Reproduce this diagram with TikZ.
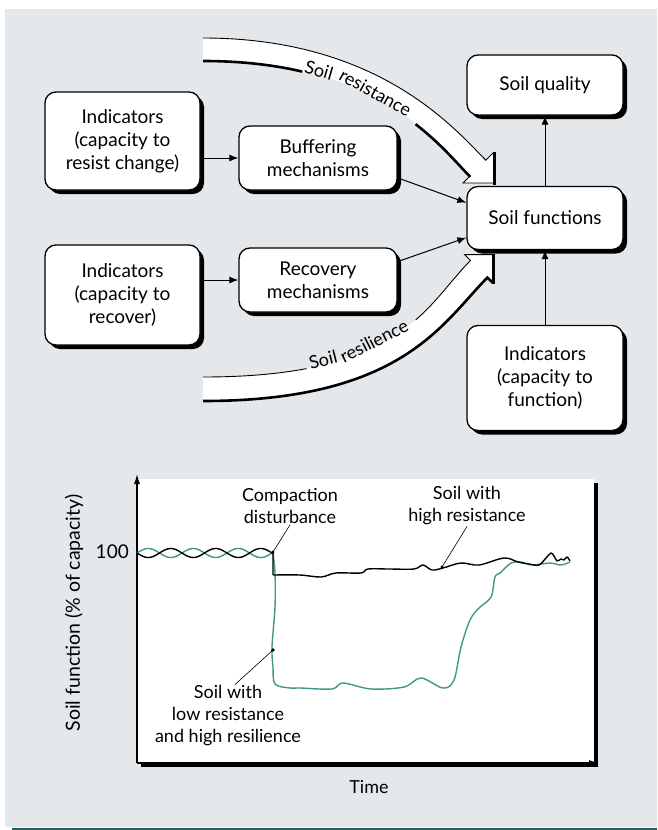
\documentclass[tikz,border=0pt]{standalone}
\usepackage{fontspec}
\setmainfont{Lato}
\usetikzlibrary{arrows.meta,shadows}
\definecolor{bggray}{RGB}{228,232,235}
\definecolor{curvegreen}{RGB}{66,150,138}
\definecolor{rulecol}{RGB}{40,95,90}
\newcommand\boxfont{\fontsize{19}{23}\selectfont}
\newcommand\lblfont{\fontsize{18}{22}\selectfont}
\begin{document}
\begin{tikzpicture}[x=1pt,y=-1pt,
  box/.style={draw=black, line width=1.3pt, fill=white, rounded corners=11pt,
    align=center, inner sep=0pt, font=\boxfont,
    general shadow={fill=black, shadow xshift=4pt, shadow yshift=-4pt}},
  arr/.style={line width=1pt, -{Latex[length=9pt,width=7pt]}},
  thinedge/.style={line width=0.9pt},
  thickedge/.style={line width=2.6pt},
  headedge/.style={line width=3pt},
  lbl/.style={align=center, font=\lblfont, inner sep=1pt},
  bandword/.style={font=\lblfont, inner sep=0pt},
  curve/.style={line width=1.4pt, line join=round}]
\useasboundingbox (0,0) rectangle (657,830);
\fill[white] (0,0) rectangle (657,830);
\fill[bggray] (5,9) rectangle (657,827);
\draw[rulecol, line width=1.5pt] (12,829) -- (657,829);

% ---- Soil resistance arrow
\fill[white] (203,38) .. controls (380,38) and (455.8,130.2) .. (485.8,160.2) -- (493,153) -- (493,183) -- (463,183) -- (470.2,175.8) .. controls (440.2,145.8) and (380,60) .. (203,60) -- cycle;
\draw[thinedge] (203,38) .. controls (380,38) and (455.8,130.2) .. (485.8,160.2) -- (493,153);
\draw[thinedge] (493,183) -- (463,183) -- (470.2,175.8);
\draw[headedge] (494.2,152) -- (494.2,184.5);
\draw[thickedge, dash pattern=on 100pt off 126pt on 600pt] (203,61) .. controls (380,61) and (440.2,146.8) .. (470.2,176.8);
\node[bandword, rotate=-16] (wsoil1) at (319,70) {Soil};
\node[bandword, rotate=-29] (wres) at (375.5,92.5) {resistance};

% ---- Soil resilience arrow
\fill[white] (203,377) .. controls (403,377) and (425.5,305.5) .. (470.5,260.5) -- (464.6,254.6) -- (492.6,254.6) -- (492.6,282.6) -- (486.7,276.7) .. controls (441.7,321.7) and (403,400) .. (203,400) -- cycle;
\draw[thinedge, dash pattern=on 104pt off 121pt on 600pt] (203,377) .. controls (403,377) and (425.5,305.5) .. (470.5,260.5);
\draw[thinedge] (470.5,260.5) -- (464.6,254.6) -- (492.6,254.6);
\draw[headedge] (493.8,253.6) -- (493.8,284);
\draw[thickedge] (203,401) .. controls (403,401) and (442.4,322.6) .. (487.4,277.6) -- (492.6,282.6);
\node[bandword, rotate=14] (wsoil2) at (323,360) {Soil};
\node[bandword, rotate=27] (wresil) at (374,341) {resilience};

% ---- boxes
\node[box, minimum width=155pt, minimum height=98pt] (ir) at (122.5,141) {Indicators\\(capacity to\\resist change)};
\node[box, minimum width=158pt, minimum height=64pt] (buf) at (318,158) {Buffering\\mechanisms};
\node[box, minimum width=155pt, minimum height=100pt] (irec) at (122.5,295) {Indicators\\(capacity to\\recover)};
\node[box, minimum width=158pt, minimum height=64pt] (rec) at (318,280) {Recovery\\mechanisms};
\node[box, minimum width=156pt, minimum height=60pt] (sq) at (545,85) {Soil quality};
\node[box, minimum width=156pt, minimum height=63pt] (sf) at (545,218) {Soil functions};
\node[box, minimum width=156pt, minimum height=105pt] (ifn) at (545,378) {Indicators\\(capacity to\\function)};

\draw[arr] (ir.east |- buf.west) -- (buf.west);
\draw[arr] (irec.east |- rec.west) -- (rec.west);
\draw[arr] (buf.-14) -- (sf.169);
\draw[arr] (rec.13) -- (sf.194);
\draw[arr] (sf.north) -- (sq.south);
\draw[arr] (ifn.north) -- (sf.south);

% ---- graph
\fill[black] (141,483) rectangle (598,767);
\fill[white] (137,479) rectangle (594,763);
\coordinate (o) at (137,763);
\coordinate (ytop) at (137,474);
\coordinate (xend) at (599,763);
\draw[line width=1.1pt, -{Latex[length=10pt,width=6pt]}] (o) -- (ytop);
\draw[line width=1.1pt, -{Latex[length=10pt,width=6pt]}] (o) -- (xend);

\draw[curve, curvegreen] plot[domain=137:273, samples=120, smooth] (\x, {553 - 4.5*sin(8*(\x-137))});
\draw[curve, curvegreen] plot[smooth, tension=0.55] coordinates {(273,553) (275,573) (275,607) (272,647) (273,667) (275,684) (290,688) (300,688) (332,689) (343,683) (371,689) (404,687) (421,678) (443,688) (454,680) (461,647) (470,620) (479,608) (491,597) (495,577) (500,573) (511,563) (521,562) (532,565) (550,563) (561,565) (570,562)};
\draw[curve, black] plot[domain=137:273, samples=120, smooth] (\x, {553 + 4.5*sin(8*(\x-137))});
\draw[curve, black] (273,553) -- (273,575) plot[smooth, tension=0.55] coordinates {(273,575) (300,575) (321,577) (336,573) (361,573) (368,569) (389,569) (414,569) (423,565) (432,570) (443,568) (461,563) (479,565) (504,558) (518,562) (529,564) (539,565) (546,558) (551,553) (554,556) (557,561) (561,559) (564,560) (567,557) (570,561)};

\node[lbl] (comp) at (290,506) {Compaction\\disturbance};
\node[lbl] (hires) at (467,506) {Soil with\\high resistance};
\node[lbl] (lowres) at (228,716) {Soil with\\low resistance\\and high resilience};
\coordinate (c1) at (273,552);
\coordinate (c2) at (442,567);
\coordinate (c3) at (273,650);
\draw[line width=0.6pt] (comp.south) -- (c1);
\draw[line width=0.6pt] (hires.south) -- (c2);
\draw[line width=0.6pt] ([xshift=7pt]lowres.north) -- (c3);
\fill (c1) circle (1.6);
\fill (c2) circle (1.6);
\fill (c3) circle (1.8);

\node[anchor=east, font=\fontsize{19}{22}\selectfont, inner sep=0pt] (hundred) at (129,552) {100};
\node[rotate=90, font=\fontsize{19.5}{22}\selectfont] (ylab) at (74,613) {Soil function (\% of capacity)};
\node[font=\lblfont] (time) at (369,787) {Time};
\end{tikzpicture}
\end{document}
